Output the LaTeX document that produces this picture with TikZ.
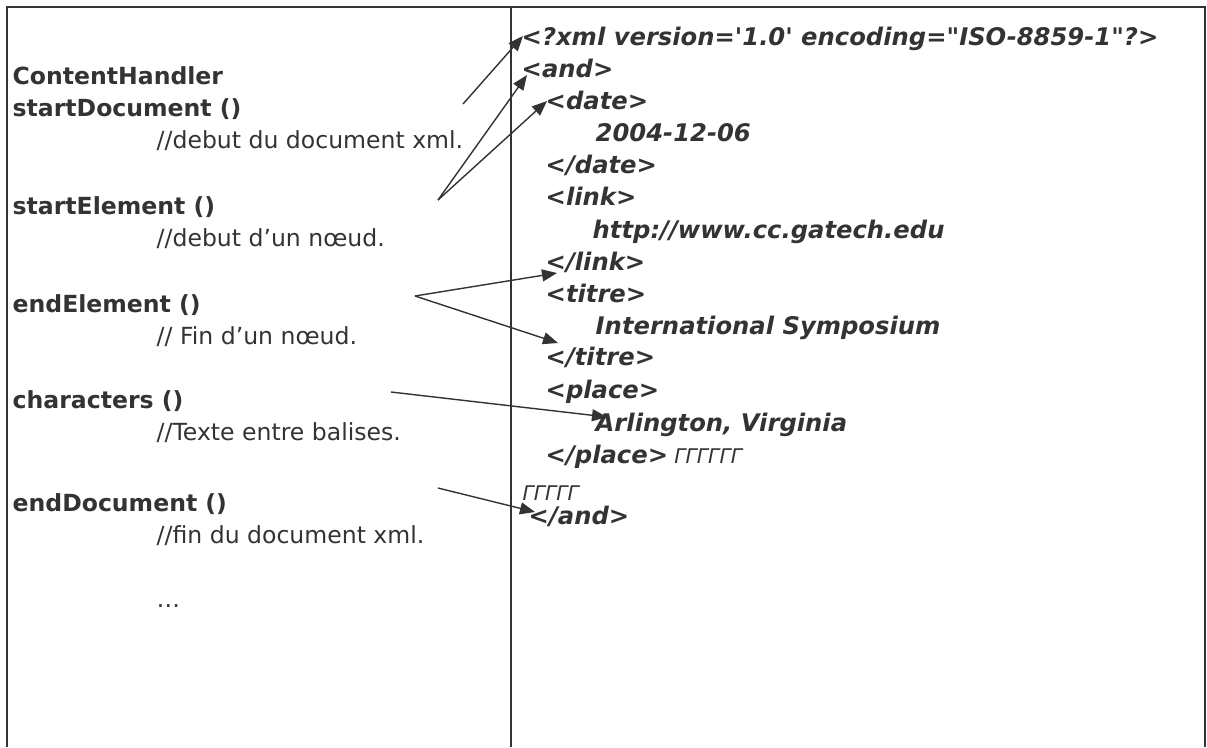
\documentclass[tikz,border=0pt]{standalone}
\usepackage{fontspec}
\setmainfont{DejaVu Sans}
\usetikzlibrary{arrows.meta}
\definecolor{ink}{HTML}{333333}
\tikzset{
  meth/.style={anchor=base west, inner sep=0pt, font=\fontsize{13.4}{16}\selectfont\bfseries},
  cmt/.style={anchor=base west, inner sep=0pt, font=\fontsize{13.4}{16}\selectfont},
  tag/.style={anchor=base west, inner sep=0pt, font=\fontsize{13.8}{16}\selectfont\bfseries\itshape},
  junk/.style={anchor=base west, inner sep=0pt, font=\fontsize{11.5}{14}\selectfont\itshape},
  frame/.style={line width=1.1pt}
}
\begin{document}
\begin{tikzpicture}[x=0.2mm, y=-0.2mm, >={Triangle[length=3mm,width=2.4mm]}, color=ink, line width=0.8pt]
%		\draw [help lines, step=50] (0,0) grid (1207,747);
		\useasboundingbox (0,0) rectangle (1207,747);
		\draw [frame] (7,747) -- (7,7) -- (1205,7) -- (1205,747);
		\draw [frame] (511,7) -- (511,747);
		% methodes du ContentHandler
		\node [meth] (handler) at (12,84) {ContentHandler};
		\node [meth] (sdoc) at (12,116) {startDocument ()};
		\node [cmt] (sdocC) at (156,148) {//debut du document xml.};
		\node [meth] (selt) at (12,214) {startElement ()};
		\node [cmt] (seltC) at (156,246) {//debut d’un nœud.};
		\node [meth] (eelt) at (12,312) {endElement ()};
		\node [cmt] (eeltC) at (156,344) {// Fin d’un nœud.};
		\node [meth] (chars) at (12,408) {characters ()};
		\node [cmt] (charsC) at (156,440) {//Texte entre balises.};
		\node [meth] (edoc) at (12,511) {endDocument ()};
		\node [cmt] (edocC) at (156,543) {//fin du document xml.};
		\node [cmt] (more) at (156,607) {…};
		% document xml
		\node [tag] (xdecl) at (521,45) {<?xml version=\textquotesingle 1.0\textquotesingle\ encoding=\textquotedbl ISO-8859-1\textquotedbl ?>};
		\node [tag] (tAnd) at (521,77) {<and>};
		\node [tag] (tDate) at (545,109) {<date>};
		\node [tag] (vDate) at (595,141) {2004-12-06};
		\node [tag] (eDate) at (545,173) {</date>};
		\node [tag] (tLink) at (545,205) {<link>};
		\node [tag] (vLink) at (592,238) {http://www.cc.gatech.edu};
		\node [tag] (eLink) at (545,270) {</link>};
		\node [tag] (tTitre) at (545,302) {<titre>};
		\node [tag] (vTitre) at (595,334) {International Symposium};
		\node [tag] (eTitre) at (545,365) {</titre>};
		\node [tag] (tPlace) at (545,398) {<place>};
		\node [tag] (vPlace) at (595,431) {Arlington, Virginia};
		\node [tag] (ePlace) at (545,463) {</place>};
		\node [junk] (junkA) at ([xshift=1mm]ePlace.base east) {ΓΓΓΓΓΓ};
		\node [junk] (junkB) at (522,500) {ΓΓΓΓΓ};
		\node [tag] (eAnd) at (528,524) {</and>};
		% fleches
		\coordinate (fromSdoc) at (463,104);
		\coordinate (fromSelt) at (438,200);
		\coordinate (fromEelt) at (415,296);
		\coordinate (fromChars) at (391,392);
		\coordinate (fromEdoc) at (438,488);
		\draw [->] (fromSdoc) -- ([shift={(2,-9)}]xdecl.base west);
		\draw [->] (fromSelt) -- ([shift={(6,-2)}]tAnd.base west);
		\draw [->] (fromSelt) -- ([shift={(2,-8)}]tDate.base west);
		\draw [->] (fromEelt) -- ([shift={(12,3)}]eLink.base west);
		\draw [->] (fromEelt) -- ([shift={(13,-22)}]eTitre.base west);
		\draw [->] (fromChars) -- ([shift={(12,-14)}]vPlace.base west);
		\draw [->] (fromEdoc) -- ([shift={(7,-12)}]eAnd.base west);
\end{tikzpicture}
\end{document}
